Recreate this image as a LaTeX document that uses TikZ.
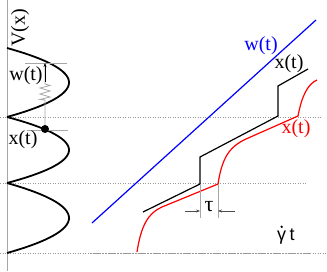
\documentclass[tikz,border=0pt]{standalone}
\usepackage{fontspec}
\setmainfont{Liberation Serif}
\newfontfamily\sansf{Liberation Sans}
\usetikzlibrary{arrows.meta}
\begin{document}
\begin{tikzpicture}[x=1pt,y=-1pt,
  lab/.style={font=\fontsize{20}{24}\selectfont, inner sep=0pt},
  slab/.style={font=\sansf\fontsize{18}{21}\selectfont, inner sep=0pt},
  gdash/.style={gray!80, line width=0.6pt, dash pattern=on 1pt off 1.5pt},
  gline/.style={gray!70, line width=0.8pt},
  tip/.style={-{Stealth[length=4pt,width=3pt]}},
  curve/.style={line width=1.2pt, line join=miter}]
\useasboundingbox (0,0) rectangle (327,271);
% axis of the potential
\coordinate (axtop) at (7,0);
\coordinate (axbot) at (7,271);
\draw[gline] (axtop) -- (axbot);
% dashed levels
\coordinate (d1a) at (0,117); \coordinate (d1b) at (322,117);
\coordinate (d2a) at (0,183); \coordinate (d2b) at (306,183);
\coordinate (d3a) at (0,253); \coordinate (d3b) at (327,253);
\coordinate (t0a) at (88,253); \coordinate (t0b) at (309,253);
\draw[gdash] (d1a) -- (d1b);
\draw[gdash] (d2a) -- (d2b);
\draw[gdash] (d3a) -- (d3b);
\draw[gray!80, line width=1pt, dash pattern=on 1pt off 0.5pt] (t0a) -- (t0b);
% potential V(x)
\draw[line width=1.8pt] plot[domain=-1:1,samples=41] ({7+62*(1-\x*\x)},{82.5+34.5*\x});
\draw[line width=1.8pt] plot[domain=-1:1,samples=41] ({7+62*(1-\x*\x)},{150+33*\x});
\draw[line width=1.8pt] plot[domain=-1:1,samples=41] ({7+62*(1-\x*\x)},{218+35*\x});
\node[lab, rotate=90] (V) at (20,28) {V(x)};
% ticks and spring
\coordinate (tk1a) at (25,63); \coordinate (tk1b) at (67,63);
\coordinate (tk2a) at (27,130); \coordinate (tk2b) at (68,130);
\draw[gline] (tk1a) -- (tk1b);
\draw[gline] (tk2a) -- (tk2b);
\coordinate (sp0) at (45,63);
\coordinate (sp1) at (45,84);
\coordinate (sp2) at (45,100);
\coordinate (sp3) at (45,129);
\draw[gline] (sp0) -- (sp1) -- ++(5,1.5) -- ++(-10,2.5) -- ++(10,3) -- ++(-10,3) -- ++(10,3) -- ++(-10,2.5) -- (sp2) -- (sp3);
\coordinate (wa) at (45,82);
\draw[tip, line width=0.9pt] (wa) -- (sp0);
\fill (sp3) circle (4);
\node[lab] (wl) at (26,76) {w(t)};
\node[lab] (xl) at (23,140) {x(t)};
% w(t) line
\coordinate (w0) at (92,223); \coordinate (w1) at (316,20);
\draw[blue, curve] (w0) -- (w1);
\node[lab, text=blue] (wr) at (261,46) {w(t)};
% black x(t)
\coordinate (b0) at (143,212); \coordinate (b1) at (200,184);
\coordinate (b2) at (200,157); \coordinate (b3) at (278,116);
\coordinate (b4) at (278,86); \coordinate (b5) at (308,69);
\draw[curve] (b0) -- (b1) -- (b2) -- (b3) -- (b4) -- (b5);
\node[lab] (xb) at (289,64) {x(t)};
% red x(t)
\coordinate (r0) at (137,252); \coordinate (r1) at (162,207);
\coordinate (r2) at (218,184); \coordinate (r3) at (246,139);
\coordinate (r4) at (298,116); \coordinate (r5) at (317,80);
\draw[red, curve] (r0) .. controls (141,226) and (148,213) .. (r1) -- (r2)
  .. controls (222,158) and (229,147) .. (r3) -- (r4)
  .. controls (302,95) and (308,84) .. (r5);
\node[lab, text=red] (xr) at (296,129) {x(t)};
% tau
\coordinate (ta1) at (200,218); \coordinate (ta2) at (218,218);
\draw[gline] (b1) -- (ta1);
\draw[gline] (r2) -- (ta2);
\coordinate (al) at (185,211); \coordinate (alt) at (200,211);
\coordinate (ar) at (235,211); \coordinate (art) at (218,211);
\draw[tip, gray!60!black, line width=0.5pt] (al) -- (alt);
\draw[tip, gray!60!black, line width=0.5pt] (ar) -- (art);
\node[lab, font=\fontsize{22}{26}\selectfont] (tau) at (209,207) {τ};
% gamma-dot t
\node[slab, anchor=base west] (gam) at (277,240) {γ};
\node[slab, anchor=base west] (tt) at ([xshift=3pt]gam.base east) {t};
\fill ([yshift=3.5pt]gam.north) circle (1.3);
\end{tikzpicture}
\end{document}
